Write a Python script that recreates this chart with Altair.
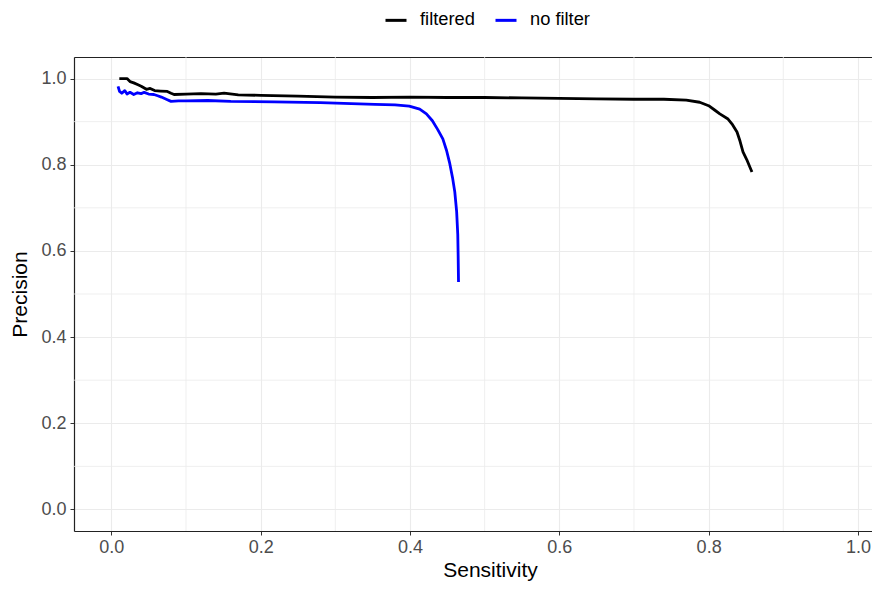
import altair as alt
import pandas as pd

# ---- data ----
filtered_x = [0.0107, 0.021, 0.025, 0.030, 0.035, 0.040, 0.047, 0.052, 0.058, 0.066, 0.075,
              0.080, 0.084, 0.10, 0.12, 0.14, 0.151, 0.17, 0.20, 0.25, 0.30, 0.35, 0.40,
              0.45, 0.50, 0.55, 0.60, 0.65, 0.70, 0.74, 0.77, 0.788, 0.80, 0.808, 0.815,
              0.826, 0.832, 0.838, 0.842, 0.846, 0.851, 0.858]
filtered_y = [1.0, 1.0, 0.993, 0.990, 0.986, 0.982, 0.975, 0.977, 0.972, 0.971, 0.970,
              0.966, 0.963, 0.964, 0.965, 0.964, 0.966, 0.962, 0.961, 0.959, 0.957, 0.956, 0.957,
              0.956, 0.956, 0.955, 0.954, 0.953, 0.952, 0.952, 0.950, 0.945, 0.937, 0.927, 0.918,
              0.906, 0.893, 0.876, 0.855, 0.830, 0.812, 0.783]

nofilter_x = [0.009, 0.011, 0.014, 0.018, 0.021, 0.025, 0.030, 0.035, 0.040, 0.044, 0.050,
              0.057, 0.062, 0.067, 0.075, 0.080, 0.09, 0.10, 0.129, 0.16, 0.218, 0.28, 0.353,
              0.38, 0.399, 0.413, 0.422, 0.430, 0.437, 0.444, 0.449, 0.453, 0.457, 0.460,
              0.4625, 0.464, 0.4645, 0.465]
nofilter_y = [0.982, 0.970, 0.966, 0.972, 0.964, 0.968, 0.963, 0.967, 0.965, 0.968, 0.964,
              0.963, 0.960, 0.957, 0.951, 0.947, 0.948, 0.948, 0.949, 0.947, 0.946, 0.944, 0.940,
              0.939, 0.936, 0.929, 0.918, 0.902, 0.882, 0.860, 0.833, 0.805, 0.770, 0.737,
              0.691, 0.638, 0.590, 0.528]

series_names = ["filtered", "no filter"]
series_colors = ["#000000", "#0000FF"]
major_ticks = [0.0, 0.2, 0.4, 0.6, 0.8, 1.0]
minor_ticks = [0.1, 0.3, 0.5, 0.7, 0.9]

rows = []
for i, (x, y) in enumerate(zip(filtered_x, filtered_y)):
    rows.append({"series": series_names[0], "x": x, "y": y, "ord": i})
for i, (x, y) in enumerate(zip(nofilter_x, nofilter_y)):
    rows.append({"series": series_names[1], "x": x, "y": y, "ord": i})
df = pd.DataFrame(rows)
minor_df = pd.DataFrame({"v": minor_ticks})

FONT = "Liberation Sans"
xscale = alt.Scale(domain=[-0.05, 1.0188], nice=False, zero=False)
yscale = alt.Scale(domain=[-0.05, 1.05], nice=False, zero=False)

grid_col = "#EBEBEB"
border_col = "#222222"
axis_common = dict(
    values=major_ticks, format=".1f", labelFontSize=18, labelColor="#4D4D4D",
    labelFont=FONT, tickColor="#333333", tickSize=4, tickWidth=1,
    domain=True, domainColor=border_col, domainWidth=1.2, grid=True, gridColor=grid_col,
    gridWidth=1.1, titleFontSize=21, titleColor="#000000", titleFont=FONT,
    titleFontWeight="normal", labelFlush=False, labelOverlap=False,
)
x_axis = alt.Axis(title="Sensitivity", titlePadding=3, labelPadding=3, titleX=416,
                  **axis_common)
y_axis = alt.Axis(title="Precision", titlePadding=10, labelPadding=4, orient="left",
                  **axis_common)

minor_x = alt.Chart(minor_df).mark_rule(color=grid_col, strokeWidth=0.8).encode(
    x=alt.X("v:Q", scale=xscale,
            axis=alt.Axis(orient="top", labels=False, ticks=False, grid=False,
                          domain=True, domainColor=border_col, domainWidth=1.2, title=None))
)
minor_y = alt.Chart(minor_df).mark_rule(color=grid_col, strokeWidth=0.8).encode(
    y=alt.Y("v:Q", scale=yscale, axis=None)
)

lines = alt.Chart(df).mark_line(strokeWidth=2.8, strokeJoin="round").encode(
    x=alt.X("x:Q", scale=xscale, axis=x_axis),
    y=alt.Y("y:Q", scale=yscale, axis=y_axis),
    color=alt.Color("series:N",
                    scale=alt.Scale(domain=series_names, range=series_colors),
                    legend=alt.Legend(title=None, orient="none", direction="horizontal",
                                      legendX=310, legendY=-49, symbolType="stroke",
                                      symbolStrokeWidth=3, symbolSize=441,
                                      labelFontSize=18.3, labelFont=FONT, labelColor="#000000",
                                      labelOffset=12, columnPadding=14, padding=0)),
    order="ord:Q",
)

chart = alt.layer(minor_x, minor_y, lines).resolve_axis(
    x="independent", y="independent"
).properties(
    width=798, height=474,
    autosize=alt.AutoSizeParams(type="none"),
    padding={"left": 66, "top": 49, "right": 0, "bottom": 51},
).configure_view(stroke="transparent").configure(font=FONT, background="white")

chart.save("out.html", embed_options={"renderer": "svg", "actions": False})
